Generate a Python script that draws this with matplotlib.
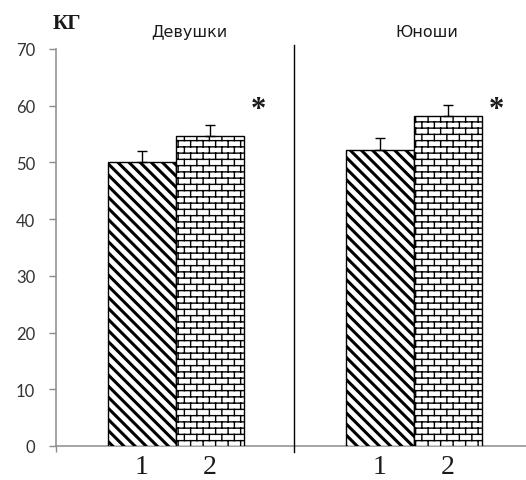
import warnings
import numpy as np
import matplotlib
matplotlib.use('Agg')
import matplotlib.pyplot as plt
from matplotlib import hatch as mhatch
from matplotlib.path import Path

warnings.filterwarnings('ignore')

groups = ['Девушки', 'Юноши']
labels = ['1', '2']
before = [50.0, 52.2]
before_err = [2.0, 2.1]
after = [54.7, 58.2]
after_err = [1.9, 1.9]
signif = ['*', '*']


# brick pattern hatch, triggered by 'b'
class BrickHatch(mhatch.HatchPatternBase):
    def __init__(self, hatch, density):
        self.rows = 16 if 'b' in hatch else 0
        self.cols = 8
        self.num_vertices = self.rows * 2 + (self.rows + 1) * self.cols * 2 if self.rows else 0

    def set_vertices_and_codes(self, vertices, codes):
        n = 0
        for i in range(self.rows):
            y = (i + 0.5) / self.rows
            vertices[n] = (0.0, y)
            vertices[n + 1] = (1.0, y)
            codes[n] = Path.MOVETO
            codes[n + 1] = Path.LINETO
            n += 2
        for i in range(-1, self.rows):
            y0 = max((i + 0.5) / self.rows, 0.0)
            y1 = min((i + 1.5) / self.rows, 1.0)
            for j in range(self.cols):
                x = (j + 0.25 + 0.5 * (i % 2)) / self.cols
                vertices[n] = (x, y0)
                vertices[n + 1] = (x, y1)
                codes[n] = Path.MOVETO
                codes[n + 1] = Path.LINETO
                n += 2


mhatch._hatch_types.append(BrickHatch)

plt.rcParams['hatch.color'] = 'black'

fig = plt.figure(figsize=(5.26, 4.81), dpi=100)
ax = fig.add_axes([56 / 526, 34 / 481, 470 / 526, 397 / 481])

centers = np.array([1.76, 5.26])
w = 1.0

plt.rcParams['hatch.linewidth'] = 2.2
b1 = ax.bar(centers - w / 2, before, w, color='white', edgecolor='black',
            linewidth=1.0, hatch='\\\\\\', zorder=3)
for p in b1:
    if hasattr(p, 'set_hatch_linewidth'):
        p.set_hatch_linewidth(2.2)

plt.rcParams['hatch.linewidth'] = 1.0
b2 = ax.bar(centers + w / 2, after, w, color='white', edgecolor='black',
            linewidth=1.0, hatch='b', zorder=3)
for p in b2:
    if hasattr(p, 'set_hatch_linewidth'):
        p.set_hatch_linewidth(1.0)
plt.rcParams['hatch.linewidth'] = 1.0

ax.errorbar(centers - w / 2, before, yerr=[np.zeros(2), before_err], fmt='none',
            ecolor='black', elinewidth=1.0, capsize=3.3, capthick=1.0, zorder=4)
ax.errorbar(centers + w / 2, after, yerr=[np.zeros(2), after_err], fmt='none',
            ecolor='black', elinewidth=1.0, capsize=3.3, capthick=1.0, zorder=4)

ax.set_xlim(0, 470 / 68)
ax.set_ylim(0, 70)
ax.set_yticks(range(0, 71, 10))

for s in ['top', 'right']:
    ax.spines[s].set_visible(False)
for s in ['left', 'bottom']:
    ax.spines[s].set_color('#8c8c8c')
    ax.spines[s].set_linewidth(1.1)

ax.tick_params(axis='y', direction='out', length=5, width=1.0, color='#8c8c8c',
               pad=10, labelsize=12, labelcolor='#333333')
for t in ax.get_yticklabels():
    t.set_fontfamily('Lato')

xpos = np.concatenate([centers - w / 2, centers + w / 2])
ax.set_xticks(np.sort(xpos))
ax.set_xticklabels(labels * 2)
ax.tick_params(axis='x', length=0, pad=6, labelsize=20, labelcolor='#1a1a1a')
for t in ax.get_xticklabels():
    t.set_fontfamily('Liberation Serif')
ax.set_xticks([0], minor=True)
ax.tick_params(axis='x', which='minor', length=4, width=1.0, color='#8c8c8c')

# divider between groups
ax.plot([3.5, 3.5], [-1.1, 70.7], color='black', linewidth=1.0, clip_on=False, zorder=5)

for c, g, s, top in zip(centers, groups, signif, after):
    ax.text(c + 0.2, 73.0, g, ha='center', va='center', fontsize=11.5,
            family='DejaVu Sans', color='#1a1a1a', clip_on=False)
    ax.text(c + 1.21, 58.0, s, ha='center', va='baseline', fontsize=22,
            family='Liberation Serif', fontweight='bold', color='#1a1a1a', clip_on=False)

fig.text(67 / 526, 1 - 29 / 481, 'КГ', ha='center', va='baseline', fontsize=15,
         family='Liberation Serif', fontweight='bold', color='#1a1a1a')

fig.savefig('out.png', dpi=100)
